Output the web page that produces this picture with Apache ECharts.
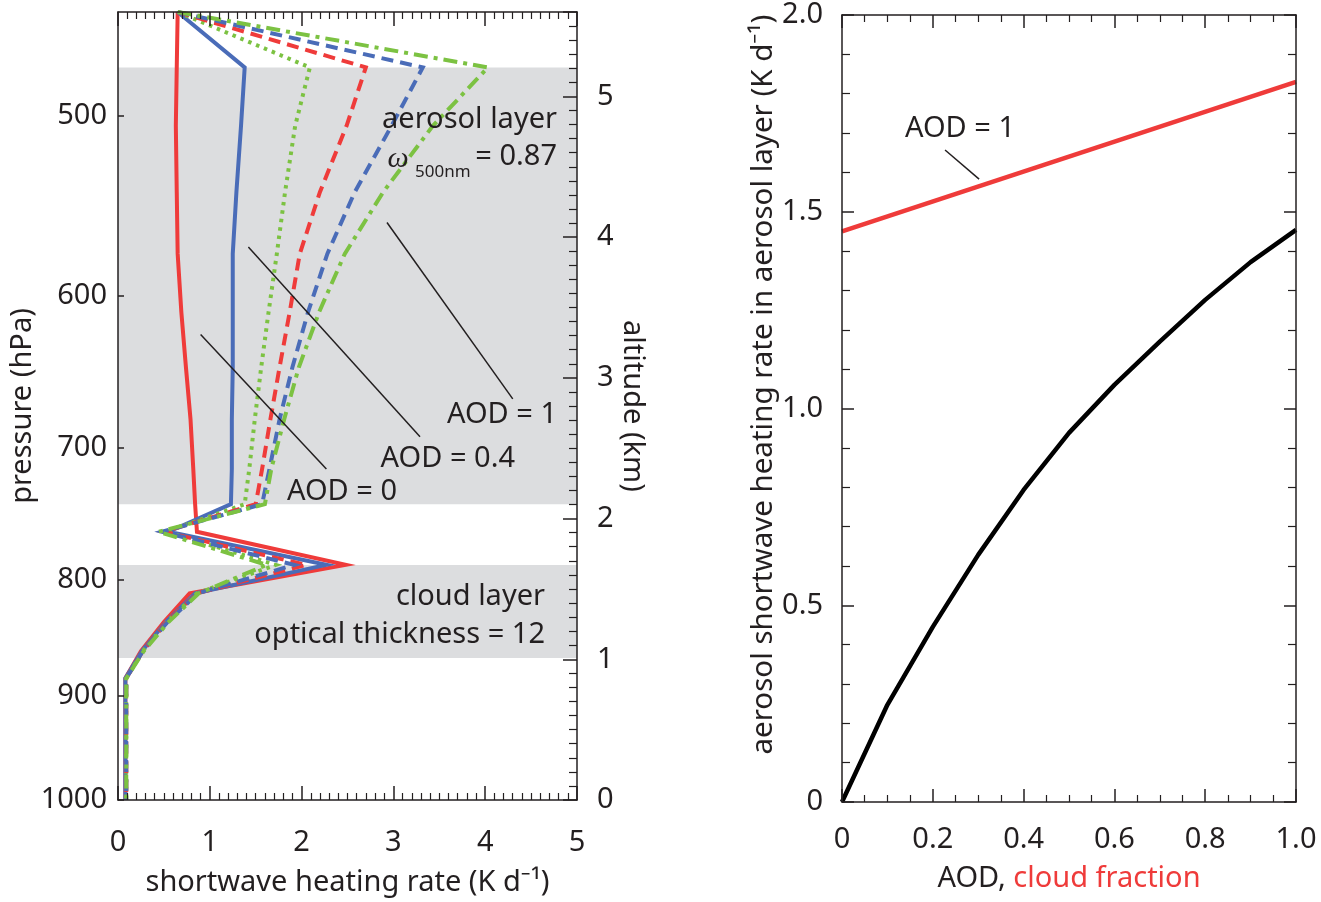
<!DOCTYPE html>
<html>
<head>
<meta charset="utf-8">
<script src="https://cdn.jsdelivr.net/npm/echarts@6/dist/echarts.min.js"></script>
<style>html,body{margin:0;padding:0;background:#fff}#c{width:1321px;height:902px}</style>
</head>
<body>
<div id="c"></div>
<script>
// ---------------- data: left panel (heating-rate profiles) ----------------
const pressureLevels = [450, 476, 505, 540, 575, 610, 645, 680, 715, 741, 762, 788, 811, 835, 860, 884, 1000];
const heatRedSolid     = [0.65, 0.64, 0.63, 0.64, 0.65, 0.69, 0.74, 0.79, 0.82, 0.84, 0.86, 2.48, 0.78, 0.50, 0.25, 0.08, 0.08];
const heatBlueSolid    = [0.65, 1.38, 1.34, 1.29, 1.25, 1.25, 1.25, 1.24, 1.24, 1.23, 0.55, 2.27, 0.84, 0.52, 0.26, 0.08, 0.08];
const heatGreenDotted  = [0.65, 2.09, 1.93, 1.82, 1.73, 1.64, 1.56, 1.49, 1.43, 1.38, 0.52, 1.72, 0.86, 0.53, 0.27, 0.09, 0.09];
const heatRedDashed    = [0.65, 2.70, 2.49, 2.20, 1.98, 1.87, 1.76, 1.66, 1.57, 1.50, 0.50, 2.05, 0.86, 0.53, 0.27, 0.09, 0.09];
const heatBlueDashed   = [0.65, 3.32, 2.98, 2.58, 2.28, 2.07, 1.90, 1.76, 1.65, 1.57, 0.48, 1.92, 0.87, 0.54, 0.27, 0.09, 0.09];
const heatGreenDashDot = [0.65, 4.03, 3.43, 2.89, 2.47, 2.19, 1.97, 1.81, 1.67, 1.60, 0.44, 1.62, 0.88, 0.55, 0.28, 0.09, 0.09];
const pressureTicks = [500, 600, 700, 800, 900, 1000];
const aerosolLayer = [476, 741];   // hPa
const cloudLayer = [788, 866];     // hPa
// leader lines: [x1, p1, x2, p2]
const leadersLeft = [
  [0.90, 624, 2.27, 715],   // AOD = 0
  [1.42, 571, 3.29, 692],   // AOD = 0.4
  [2.93, 557, 4.30, 666]    // AOD = 1
];

// ---------------- data: right panel ----------------
const aodValues = [0, 0.1, 0.2, 0.3, 0.4, 0.5, 0.6, 0.7, 0.8, 0.9, 1.0];
const heatVsAod = [0, 0.247, 0.445, 0.628, 0.793, 0.938, 1.06, 1.17, 1.276, 1.372, 1.454];
const cloudFraction = [0, 1];
const heatVsCloud = [1.45, 1.83];
const leaderRight = [0.227, 1.657, 0.302, 1.583];

// ---------------- styling ----------------
const FONT = "'Noto Sans', sans-serif";
const INK = '#231f20';
const RED = '#ef3b3a';
const BLUE = '#4a6cb8';
const GREEN = '#7cc242';
const FS = 29;
const lg = v => Math.log10(v);

const axLine = {show: true, onZero: false, lineStyle: {color: INK, width: 1.5}};
const tickSt = {color: INK, width: 1.5};
const minorSt = {color: INK, width: 1.2};
const lblSt = {fontSize: FS, color: INK, fontFamily: FONT};
const nameSt = {fontSize: FS, color: INK, fontFamily: FONT};

function profile(name, vals, color, dash) {
  return {
    name, type: 'line', xAxisIndex: 0, yAxisIndex: 0, z: 3, silent: true,
    symbol: 'none', showSymbol: false,
    data: pressureLevels.map((p, i) => [vals[i], lg(p)]),
    lineStyle: {color, width: 4, type: dash, cap: 'butt', join: 'miter'}
  };
}

const chart = echarts.init(document.getElementById('c'), null, {renderer: 'canvas'});
const fmt1 = v => v === 0 ? '0' : v.toFixed(1);
const txt = (s, x, y, align, font) => ({type: 'text', x, y, z: 20,
  style: {text: s, font: font || (FS + 'px ' + FONT), fill: INK, align, verticalAlign: 'middle', textAlign: align, textVerticalAlign: 'middle'}});

const option = {
  animation: false,
  backgroundColor: '#fff',
  textStyle: {fontFamily: FONT},
  grid: [
    {left: 118, top: 12, width: 459, height: 790},
    {left: 842, top: 15, width: 454, height: 787}
  ],
  xAxis: [
    {gridIndex: 0, type: 'value', position: 'bottom', min: 0, max: 5, interval: 1, z: 10,
     axisLine: axLine, axisTick: {inside: true, length: 14, lineStyle: tickSt},
     minorTick: {show: true, splitNumber: 10, length: 7, lineStyle: minorSt},
     axisLabel: Object.assign({margin: 28}, lblSt), splitLine: {show: false},
     name: 'shortwave heating rate (K d⁻¹)', nameLocation: 'middle', nameGap: 68, nameTextStyle: nameSt},
    {gridIndex: 0, type: 'value', position: 'top', min: 0, max: 5, interval: 1, z: 10,
     axisLine: axLine, axisTick: {inside: true, length: 14, lineStyle: tickSt},
     minorTick: {show: true, splitNumber: 10, length: 7, lineStyle: minorSt},
     axisLabel: {show: false}, splitLine: {show: false}},
    {gridIndex: 1, type: 'value', position: 'bottom', min: 0, max: 1, interval: 0.2, z: 10,
     axisLine: axLine, axisTick: {inside: true, length: 13, lineStyle: tickSt},
     minorTick: {show: true, splitNumber: 4, length: 7, lineStyle: minorSt},
     axisLabel: Object.assign({margin: 23, formatter: fmt1}, lblSt), splitLine: {show: false},
     name: '{a|AOD, }{b|cloud fraction}', nameLocation: 'middle', nameGap: 62,
     nameTextStyle: {fontSize: FS, fontFamily: FONT, color: INK,
       rich: {a: {fontSize: FS, fontFamily: FONT, color: INK}, b: {fontSize: FS, fontFamily: FONT, color: RED}}}},
    {gridIndex: 1, type: 'value', position: 'top', min: 0, max: 1, interval: 0.2, z: 10,
     axisLine: axLine, axisTick: {inside: true, length: 13, lineStyle: tickSt},
     minorTick: {show: true, splitNumber: 4, length: 7, lineStyle: minorSt},
     axisLabel: {show: false}, splitLine: {show: false}}
  ],
  yAxis: [
    {gridIndex: 0, type: 'value', position: 'left', min: lg(450), max: lg(1000), inverse: true, z: 10,
     axisLine: axLine,
     axisTick: {inside: true, length: 6, lineStyle: tickSt, customValues: pressureTicks.map(lg)},
     axisLabel: Object.assign({margin: 11, customValues: pressureTicks.map(lg),
       formatter: v => String(Math.round(Math.pow(10, v)))}, lblSt),
     splitLine: {show: false},
     name: 'pressure (hPa)', nameLocation: 'middle', nameGap: 69, nameTextStyle: nameSt},
    {gridIndex: 0, type: 'value', position: 'right', min: 0, max: 5.6, interval: 1, z: 10,
     axisLine: axLine, axisTick: {inside: true, length: 14, lineStyle: tickSt},
     minorTick: {show: true, splitNumber: 10, length: 8, lineStyle: minorSt},
     axisLabel: Object.assign({margin: 20, showMaxLabel: false}, lblSt), splitLine: {show: false},
     name: 'altitude (km)', nameLocation: 'middle', nameRotate: -90, nameGap: 39, nameTextStyle: nameSt},
    {gridIndex: 1, type: 'value', position: 'left', min: 0, max: 2, interval: 0.5, z: 10,
     axisLine: axLine, axisTick: {inside: true, length: 12, lineStyle: tickSt},
     minorTick: {show: true, splitNumber: 5, length: 8, lineStyle: minorSt},
     axisLabel: Object.assign({margin: 19, formatter: fmt1}, lblSt), splitLine: {show: false},
     name: 'aerosol shortwave heating rate in aerosol layer (K d⁻¹)', nameLocation: 'middle', nameGap: 63,
     nameTextStyle: {fontSize: 29.5, color: INK, fontFamily: FONT, padding: [0, 0, 0, 48]}},
    {gridIndex: 1, type: 'value', position: 'right', min: 0, max: 2, interval: 0.5, z: 10,
     axisLine: axLine, axisTick: {inside: true, length: 12, lineStyle: tickSt},
     minorTick: {show: true, splitNumber: 5, length: 8, lineStyle: minorSt},
     axisLabel: {show: false}, splitLine: {show: false}}
  ],
  series: [
    {name: 'layers', type: 'line', xAxisIndex: 0, yAxisIndex: 0, z: 1, silent: true, data: [],
     markArea: {silent: true, itemStyle: {color: '#dcdddf', opacity: 1, borderWidth: 0},
       data: [[{yAxis: lg(aerosolLayer[0])}, {yAxis: lg(aerosolLayer[1])}],
              [{yAxis: lg(cloudLayer[0])}, {yAxis: lg(cloudLayer[1])}]]}},
    {name: 'leaders', type: 'line', xAxisIndex: 0, yAxisIndex: 0, z: 4, silent: true, data: [],
     markLine: {silent: true, symbol: ['none', 'none'], label: {show: false},
       lineStyle: {color: INK, width: 1.5, type: 'solid'},
       data: leadersLeft.map(l => [{coord: [l[0], lg(l[1])]}, {coord: [l[2], lg(l[3])]}])}},
    profile('red solid', heatRedSolid, RED, 'solid'),
    profile('blue solid', heatBlueSolid, BLUE, 'solid'),
    profile('green dotted', heatGreenDotted, GREEN, [3.5, 5]),
    profile('red dashed', heatRedDashed, RED, [12, 7]),
    profile('blue dashed', heatBlueDashed, BLUE, [12, 7]),
    profile('green dash-dot', heatGreenDashDot, GREEN, [14, 6, 4, 6]),
    {name: 'AOD', type: 'line', xAxisIndex: 2, yAxisIndex: 2, silent: true, symbol: 'none',
     data: aodValues.map((a, i) => [a, heatVsAod[i]]), lineStyle: {color: '#000', width: 4.5}},
    {name: 'cloud fraction', type: 'line', xAxisIndex: 2, yAxisIndex: 2, silent: true, symbol: 'none',
     data: cloudFraction.map((c, i) => [c, heatVsCloud[i]]), lineStyle: {color: RED, width: 4.5},
     markLine: {silent: true, symbol: ['none', 'none'], label: {show: false},
       lineStyle: {color: INK, width: 1.5, type: 'solid'},
       data: [[{coord: [leaderRight[0], leaderRight[1]]}, {coord: [leaderRight[2], leaderRight[3]]}]]}}
  ],
  graphic: [
    txt('aerosol layer', 557, 120, 'right'),
    txt('ω', 398, 159, 'center', 'italic 30px "Liberation Serif", serif'),
    txt('500nm', 415, 172, 'left', '17px ' + FONT),
    txt('= 0.87', 557, 157, 'right'),
    txt('AOD = 1', 557, 415, 'right'),
    txt('AOD = 0.4', 515, 459, 'right'),
    txt('AOD = 0', 397, 492, 'right'),
    txt('cloud layer', 545, 597, 'right'),
    txt('optical thickness = 12', 545, 635, 'right'),
    txt('AOD = 1', 960, 129, 'center')
  ]
};
chart.setOption(option);
</script>
</body>
</html>
